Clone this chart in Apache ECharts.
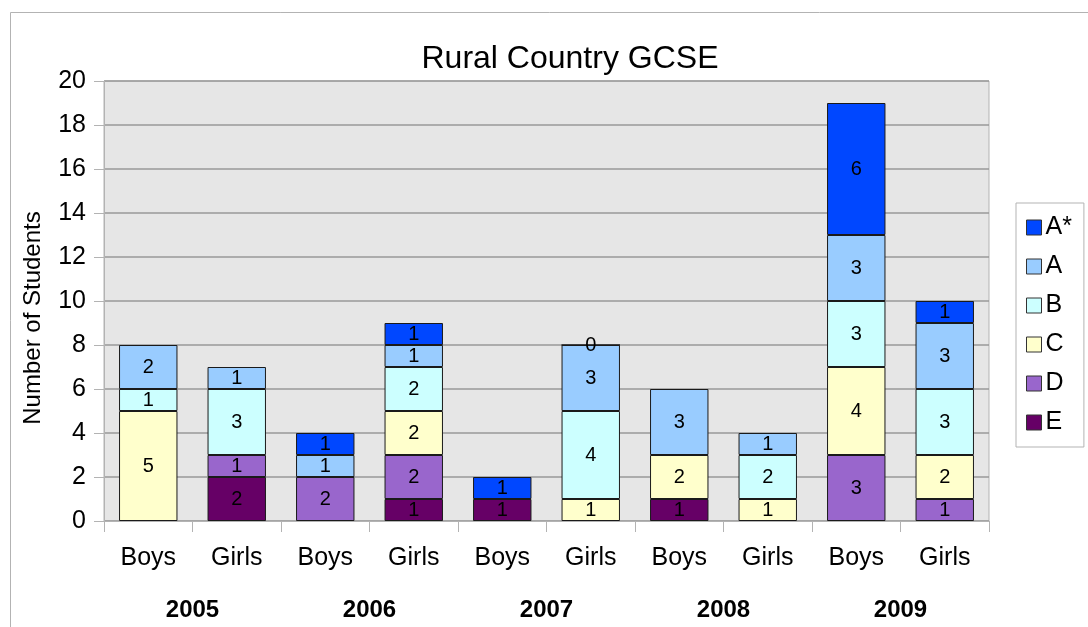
<!DOCTYPE html>
<html>
<head>
<meta charset="utf-8">
<script src="https://cdn.jsdelivr.net/npm/echarts@6/dist/echarts.min.js"></script>
<style>
  html, body { margin: 0; padding: 0; background: #fff; }
  #chart { width: 1088px; height: 627px; }
</style>
</head>
<body>
<div id="chart"></div>
<script>
// Students per grade, by year and gender
const groups = ['Boys', 'Girls', 'Boys', 'Girls', 'Boys', 'Girls', 'Boys', 'Girls', 'Boys', 'Girls'];
const years = ['2005', '2006', '2007', '2008', '2009'];
const yTicks = { min: 0, max: 20, interval: 2 };

// Grades, bottom of the stack first
const gradeE     = [null, 2, null, 1, 1, null, 1, null, null, null];
const gradeD     = [null, 1, 2, 2, null, null, null, null, 3, 1];
const gradeC     = [5, null, null, 2, null, 1, 2, 1, 4, 2];
const gradeB     = [1, 3, null, 2, null, 4, null, 2, 3, 3];
const gradeA     = [2, 1, 1, 1, null, 3, 3, 1, 3, 3];
const gradeAstar = [null, null, 1, 1, 1, 0, null, null, 6, 1];

const FONT = '"Liberation Sans", Arial, sans-serif';

const gradeSeries = [
  { name: 'E',  data: gradeE,     color: '#660066' },
  { name: 'D',  data: gradeD,     color: '#9966cc' },
  { name: 'C',  data: gradeC,     color: '#ffffcc' },
  { name: 'B',  data: gradeB,     color: '#ccffff' },
  { name: 'A',  data: gradeA,     color: '#99ccff' },
  { name: 'A*', data: gradeAstar, color: '#0047ff' }
];

const chart = echarts.init(document.getElementById('chart'), null, { renderer: 'canvas' });

chart.setOption({
  animation: false,
  backgroundColor: '#ffffff',
  textStyle: { fontFamily: FONT },
  graphic: [{
    type: 'rect',
    z: -10,
    shape: { x: 10.5, y: 12.5, width: 1100, height: 700 },
    style: { fill: '#ffffff', stroke: '#b3b3b3', lineWidth: 1 }
  }],
  title: {
    text: 'Rural Country GCSE',
    left: 565,
    top: 38,
    textAlign: 'center',
    textStyle: { fontFamily: FONT, fontSize: 32, fontWeight: 'normal', color: '#000' }
  },
  legend: {
    orient: 'vertical',
    left: 1016,
    top: 203,
    data: ['A*', 'A', 'B', 'C', 'D', 'E'],
    icon: 'rect',
    itemWidth: 15,
    itemHeight: 15,
    itemGap: 14,
    padding: [12, 12, 12, 10],
    borderColor: '#b3b3b3',
    borderWidth: 1,
    backgroundColor: '#ffffff',
    textStyle: { fontFamily: FONT, fontSize: 25, color: '#000', padding: [0, 0, 0, -1] },
    itemStyle: { borderColor: '#333', borderWidth: 1 }
  },
  grid: {
    left: 104,
    right: 99,
    top: 81,
    bottom: 106,
    show: true,
    backgroundColor: '#e6e6e6',
    borderColor: '#b3b3b3',
    borderWidth: 1
  },
  xAxis: [
    {
      type: 'category',
      data: groups,
      position: 'bottom',
      axisLine: { show: true, lineStyle: { color: '#b3b3b3', width: 1 } },
      axisTick: { show: true, length: 11, lineStyle: { color: '#b3b3b3' } },
      axisLabel: { margin: 25, fontFamily: FONT, fontSize: 25, color: '#000' }
    },
    {
      type: 'category',
      data: years,
      position: 'bottom',
      offset: 62,
      axisLine: { show: false },
      axisTick: { show: false },
      axisLabel: { margin: 15, fontFamily: FONT, fontSize: 24, fontWeight: 'bold', color: '#000' }
    }
  ],
  yAxis: {
    type: 'value',
    min: yTicks.min,
    max: yTicks.max,
    interval: yTicks.interval,
    name: 'Number of Students',
    nameLocation: 'middle',
    nameGap: 59,
    nameRotate: 90,
    nameTextStyle: { fontFamily: FONT, fontSize: 24, color: '#000', padding: [0, 34, 0, 0] },
    axisLine: { show: true, lineStyle: { color: '#b3b3b3' } },
    axisTick: { show: true, length: 10, lineStyle: { color: '#b3b3b3' } },
    axisLabel: { margin: 18, fontFamily: FONT, fontSize: 25, color: '#000' },
    splitLine: { show: true, lineStyle: { color: '#999999', width: 1.5 } }
  },
  series: gradeSeries.map(s => ({
    name: s.name,
    type: 'bar',
    stack: 'grades',
    xAxisIndex: 0,
    barCategoryGap: '34%',
    data: s.data,
    itemStyle: { color: s.color, borderColor: '#1a1a1a', borderWidth: 1 },
    label: {
      show: true,
      position: 'inside',
      fontFamily: FONT,
      fontSize: 20,
      color: '#000'
    }
  }))
});
</script>
</body>
</html>
